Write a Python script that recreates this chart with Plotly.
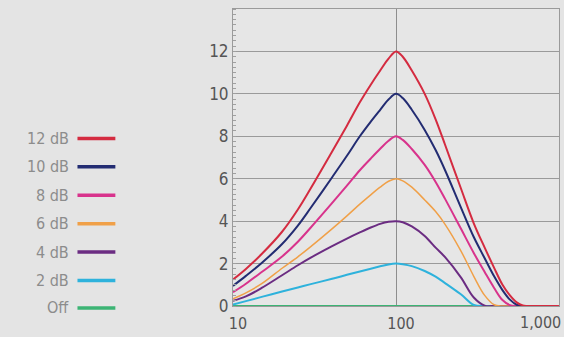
import plotly.graph_objects as go

# ---- data ----
freq = [10, 12, 15, 20, 25, 30, 40, 50, 60, 70, 80, 90, 100, 110, 125, 150,
        175, 200, 250, 300, 350, 400, 450, 500, 550, 600, 700, 800, 1000]

gain_12 = [1.25, 1.75, 2.45, 3.5, 4.55, 5.55, 7.2, 8.5, 9.6, 10.43, 11.1, 11.66, 12.0, 11.75, 11.1, 10.0,
           8.8, 7.6, 5.55, 3.9, 2.75, 1.8, 1.0, 0.5, 0.17, 0.03, 0, 0, 0]
gain_10 = [0.95, 1.42, 2.03, 2.92, 3.79, 4.63, 6.0, 7.08, 8.0, 8.69, 9.25, 9.73, 10.0, 9.8, 9.25, 8.3,
           7.35, 6.4, 4.65, 3.25, 2.25, 1.4, 0.75, 0.3, 0.06, 0, 0, 0, 0]
gain_8 = [0.65, 1.05, 1.6, 2.33, 3.03, 3.7, 4.8, 5.67, 6.4, 6.95, 7.41, 7.79, 8.0, 7.83, 7.4, 6.65,
          5.85, 5.05, 3.65, 2.5, 1.6, 0.85, 0.28, 0.04, 0, 0, 0, 0, 0]
gain_6 = [0.34, 0.62, 1.05, 1.78, 2.32, 2.8, 3.6, 4.25, 4.8, 5.24, 5.6, 5.88, 6.0, 5.9, 5.6, 5.0,
          4.45, 3.85, 2.6, 1.4, 0.5, 0.06, 0, 0, 0, 0, 0, 0, 0]
gain_4 = [0.24, 0.45, 0.85, 1.45, 1.92, 2.28, 2.8, 3.18, 3.47, 3.7, 3.87, 3.97, 4.0, 3.95, 3.75, 3.3,
          2.75, 2.3, 1.35, 0.4, 0.02, 0, 0, 0, 0, 0, 0, 0, 0]
gain_2 = [0.07, 0.23, 0.43, 0.68, 0.87, 1.03, 1.27, 1.47, 1.63, 1.76, 1.87, 1.96, 2.0, 1.97, 1.88, 1.65,
          1.38, 1.08, 0.55, 0.05, 0, 0, 0, 0, 0, 0, 0, 0, 0]
gain_off = [0] * len(freq)

series_names = ["12 dB", "10 dB", "8 dB", "6 dB", "4 dB", "2 dB", "Off"]
series_values = [gain_12, gain_10, gain_8, gain_6, gain_4, gain_2, gain_off]
series_colors = ["#d42b40", "#232c72", "#d8338c", "#f0a048", "#6b2c82", "#2eb2dc", "#3cb474"]

y_ticks = [0, 2, 4, 6, 8, 10, 12]
x_ticks = [10, 100]
x_tick_labels = ["10", "100"]

# ---- figure ----
W, H = 564, 337
ML, MR, MT, MB = 233, 4, 9, 25
PW, PH = W - ML - MR, H - MT - MB

def px_to_paper_x(px):
    return (px - ML) / PW

def py_to_paper_y(py):
    return (H - MB - py) / PH

fig = go.Figure()
widths = [2, 2, 2, 1.5, 2, 2, 2]
for name, vals, col, w in reversed(list(zip(series_names, series_values, series_colors, widths))):
    fig.add_trace(go.Scatter(x=freq, y=vals, mode="lines", name=name,
                             line=dict(color=col, width=w, shape="spline", smoothing=1.0),
                             showlegend=False, hoverinfo="skip"))

font_family = "Liberation Sans Narrow, Arial Narrow, DejaVu Sans Condensed, sans-serif"

annotations = []
shapes = []
legend_y_px = [141, 170, 199, 228, 257, 286, 314]
for name, col, ypx in zip(series_names, series_colors, legend_y_px):
    annotations.append(dict(xref="paper", yref="paper", x=px_to_paper_x(71), y=py_to_paper_y(ypx),
                            text=name, showarrow=False, xanchor="right", yanchor="middle",
                            font=dict(family=font_family, size=16, color="#8c8c8c")))
    shapes.append(dict(type="line", xref="paper", yref="paper",
                       x0=px_to_paper_x(77), x1=px_to_paper_x(115),
                       y0=py_to_paper_y(ypx), y1=py_to_paper_y(ypx),
                       line=dict(color=col, width=3.5)))

annotations.append(dict(xref="x", yref="paper", x=3, y=0, text="1,000", showarrow=False,
                        xanchor="right", yanchor="top", xshift=4, yshift=-5,
                        font=dict(family=font_family, size=16, color="#555555")))

fig.update_layout(
    width=W, height=H,
    margin=dict(l=ML, r=MR, t=MT, b=MB, pad=0),
    paper_bgcolor="#e4e4e4", plot_bgcolor="#e6e6e6",
    font=dict(family=font_family, size=16, color="#555555"),
    annotations=annotations, shapes=shapes,
    xaxis=dict(type="log", range=[1, 3], tickvals=x_ticks, ticktext=x_tick_labels,
               showgrid=True, gridcolor="#8e8e8e", gridwidth=1, zeroline=False,
               showline=True, linecolor="#9a9a9a", linewidth=1, mirror=True,
               ticks="", ticklabelshift=5, ticklabelstandoff=3,
               tickfont=dict(size=16, color="#555555")),
    yaxis=dict(range=[0, 14], tickvals=y_ticks, showgrid=True, gridcolor="#9a9a9a", gridwidth=1,
               zeroline=False, showline=True, linecolor="#9a9a9a", linewidth=1, mirror=True,
               ticks="", ticklabelstandoff=0, tickfont=dict(size=17, color="#555555"),
               minor=dict(dtick=0.25, ticks="inside", ticklen=3, tickcolor="#a0a0a0", showgrid=False)),
)

fig.write_html("out.html", config={"displayModeBar": False},
               post_script="document.body.style.margin='0';document.body.style.background='#e4e4e4';")
